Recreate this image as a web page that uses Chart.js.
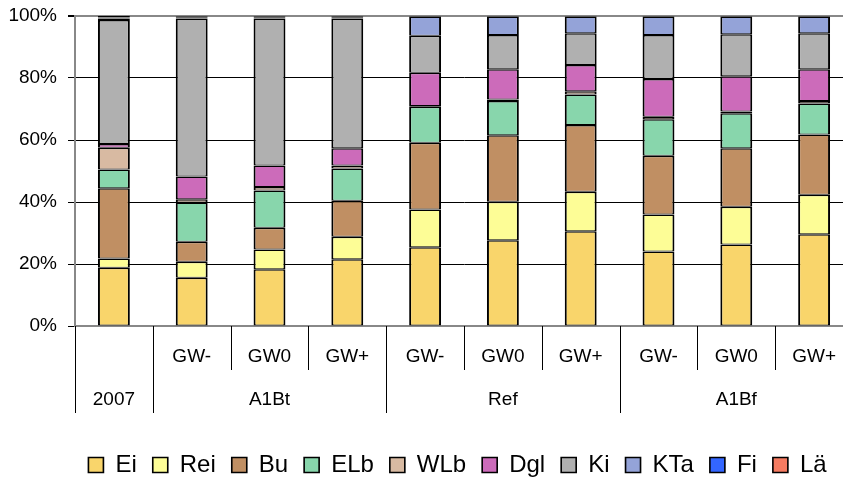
<!DOCTYPE html>
<html>
<head>
<meta charset="utf-8">
<script src="https://cdn.jsdelivr.net/npm/chart.js@4.4.1/dist/chart.umd.min.js"></script>
<style>
    body { margin: 0; overflow: hidden; background: #fff; }
    #wrap { width: 843px; height: 478px; overflow: hidden; }
</style>
</head>
<body>
<div id="wrap"><canvas id="shares" width="870" height="478"></canvas></div>
<script>
// Category labels (two rows under the bars)
const subLabels = ['', 'GW-', 'GW0', 'GW+', 'GW-', 'GW0', 'GW+', 'GW-', 'GW0', 'GW+'];
const groupLabels = ['2007', 'A1Bt', 'Ref', 'A1Bf'];
const groupSizes = [1, 3, 3, 3];

// Tree species shares in percent, one value per bar
const ei  = [18.8, 15.6, 18.3, 21.5, 25.4, 27.7, 30.6, 24.0, 26.3, 29.6];
const rei = [3.0, 5.1, 6.4, 7.3, 12.2, 12.4, 12.7, 12.0, 12.2, 12.7];
const bu  = [22.6, 6.5, 7.0, 11.6, 21.5, 21.4, 21.5, 18.9, 18.8, 19.5];
const elb = [6.1, 12.6, 12.0, 10.4, 11.6, 11.1, 9.9, 11.8, 11.3, 10.0];
const wlb = [7.0, 1.1, 1.1, 1.0, 0.3, 0.5, 1.0, 0.8, 0.6, 0.8];
const dgl = [1.2, 7.3, 7.0, 5.5, 10.7, 9.7, 8.5, 12.2, 11.4, 10.2];
const ki  = [40.0, 51.0, 47.4, 41.9, 11.9, 11.1, 10.2, 14.2, 13.5, 11.6];
const kta = [0.5, 0.4, 0.4, 0.4, 6.2, 5.9, 5.4, 5.9, 5.7, 5.4];
const fi  = [0.3, 0.2, 0.2, 0.2, 0.1, 0.1, 0.1, 0.1, 0.1, 0.1];
const la  = [0.5, 0.2, 0.2, 0.2, 0.1, 0.1, 0.1, 0.1, 0.1, 0.1];

const yTicks = [0, 20, 40, 60, 80, 100];

const seriesNames  = ['Ei', 'Rei', 'Bu', 'ELb', 'WLb', 'Dgl', 'Ki', 'KTa', 'Fi', 'Lä'];
const seriesValues = [ei, rei, bu, elb, wlb, dgl, ki, kta, fi, la];
const seriesColors = ['#F9D56B', '#FDFD96', '#C08F63', '#88D6AC', '#D8BAA2',
                      '#CC6BBA', '#B0B0B0', '#94A3D8', '#3366FF', '#F57B61'];

const FONT = "'Liberation Sans', Arial, sans-serif";

// 100% stacked: turn each bar into shares of its total
const totals = subLabels.map((_, i) => seriesValues.reduce((s, arr) => s + arr[i], 0));

const datasets = seriesNames.map((name, k) => ({
    label: name,
    data: seriesValues[k].map((v, i) => v / totals[i] * 100),
    backgroundColor: seriesColors[k],
    borderColor: '#000',
    borderWidth: { top: 1.5, bottom: 1, left: 2, right: 2 },
    borderSkipped: false,
    barPercentage: 0.41,
    categoryPercentage: 1
}));

// Draws the two-row category table below the plot
const categoryTable = {
    id: 'categoryTable',
    afterDraw(chart) {
        const ctx = chart.ctx;
        const xs = chart.scales.x;
        const top = chart.chartArea.bottom;
        const step = (xs.right - xs.left) / subLabels.length;
        ctx.save();
        ctx.strokeStyle = '#000';
        ctx.lineWidth = 1;
        ctx.fillStyle = '#000';
        ctx.font = '19px ' + FONT;
        ctx.textAlign = 'center';
        ctx.textBaseline = 'middle';

        // group edges
        const edges = [0];
        groupSizes.forEach(n => edges.push(edges[edges.length - 1] + n));

        for (let i = 0; i <= subLabels.length; i++) {
            const px = Math.round(xs.left + i * step) + 0.5;
            const long = edges.includes(i);
            ctx.beginPath();
            ctx.moveTo(px, top);
            ctx.lineTo(px, long ? 413 : 370);
            ctx.stroke();
        }

        subLabels.forEach((txt, i) => {
            if (txt) ctx.fillText(txt, xs.getPixelForValue(i), 357);
        });

        groupLabels.forEach((txt, g) => {
            const a = xs.left + edges[g] * step;
            const b = xs.left + edges[g + 1] * step;
            ctx.fillText(txt, (a + b) / 2, 400);
        });
        ctx.restore();
    }
};

// Moves the legend a bit to sit where it is in the original picture
const legendShift = {
    id: 'legendShift',
    afterLayout(chart) {
        const l = chart.legend;
        l.left += 31; l.right += 31;
        l.top += 9; l.bottom += 9;
    }
};

const ctx = document.getElementById('shares').getContext('2d');
new Chart(ctx, {
    type: 'bar',
    data: { labels: subLabels.map((s, i) => i), datasets: datasets },
    plugins: [categoryTable, legendShift],
    options: {
        responsive: false,
        animation: false,
        devicePixelRatio: 1,
        layout: { padding: { top: 16, right: 17, bottom: 0, left: 0 } },
        plugins: {
            tooltip: { enabled: false },
            legend: {
                position: 'bottom',
                labels: {
                    font: { family: FONT, size: 24 },
                    color: '#000',
                    boxWidth: 15,
                    boxHeight: 15,
                    padding: 16
                }
            }
        },
        scales: {
            x: {
                stacked: true,
                grid: { display: false },
                ticks: { display: false },
                border: { color: '#888', width: 2 },
                afterFit(scale) { scale.height = 102; }
            },
            y: {
                stacked: true,
                min: 0,
                max: 100,
                afterBuildTicks(scale) { scale.ticks = yTicks.map(v => ({ value: v })); },
                afterFit(scale) {
                    scale.width = 75;
                    scale.paddingTop = 0;
                    scale.paddingBottom = 0;
                },
                ticks: {
                    font: { family: FONT, size: 19 },
                    color: '#000',
                    padding: 11,
                    callback: v => v + '%'
                },
                grid: {
                    color: c => (c.tick && c.tick.value === 100 ? '#888' : '#000'),
                    lineWidth: c => (c.tick && c.tick.value === 100 ? 2 : 1),
                    tickLength: 7,
                    tickColor: '#000'
                },
                border: { color: '#888', width: 2 }
            }
        }
    }
});
</script>
</body>
</html>
